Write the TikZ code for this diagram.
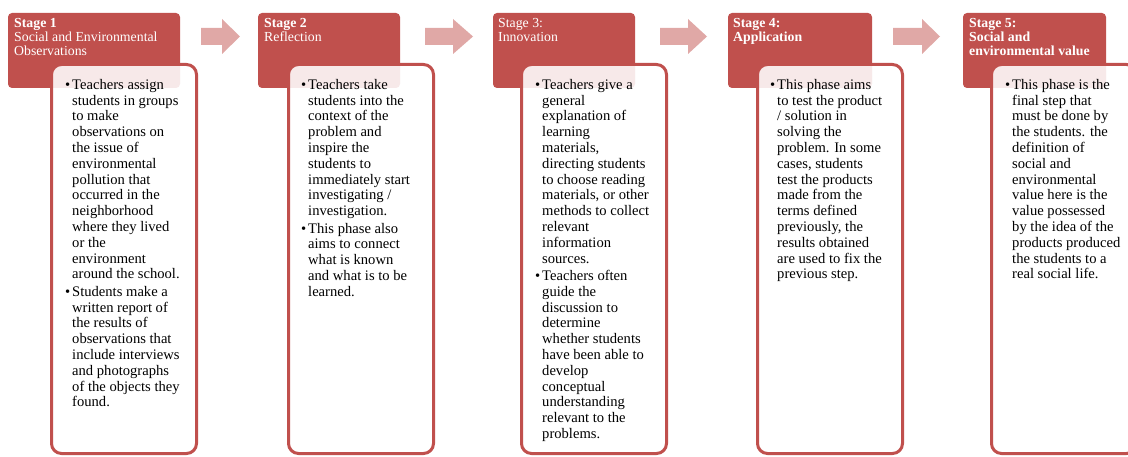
\documentclass[tikz,border=0pt]{standalone}
\usepackage{fontspec}
\setmainfont{Liberation Serif}
\usepackage{tikz}

\definecolor{stagered}{HTML}{C0504D}
\definecolor{arrowpink}{HTML}{E0A8A6}

\newcommand{\bul}{\llap{\textbullet\hspace{2pt}}}

\tikzset{
  stagehead/.style={fill=stagered,rounded corners=4pt,minimum height=75,inner sep=0,outer sep=0,anchor=north west},
  stagebody/.style={draw=stagered,line width=3pt,fill=white,fill opacity=0.88,rounded corners=10pt,
    minimum width=145,minimum height=389,inner sep=0,anchor=north west},
  stagelabel/.style={text=white,align=left,inner sep=0,anchor=north west,font=\fontsize{13.8}{14}\selectfont},
  stagetext/.style={align=left,inner sep=0,anchor=north west,font=\fontsize{14.6}{15.8}\selectfont}
}

\begin{document}
\begin{tikzpicture}[line cap=round,line join=round,x=1pt,y=-1pt]
      \clip (0,0) rectangle (1128,457);
      \foreach \l/\h/\t in {201/222/240, 425/453/473, 660/688/707, 893/922/940}{
        \fill[arrowpink] (\l,28) -- (\h,28) -- (\h,19) -- (\t,36.5) -- (\h,54) -- (\h,45) -- (\l,45) -- cycle;
      }
      \foreach \n/\hx/\hw/\bx in {1/8/172/50, 2/258/142/287, 3/493/142/520, 4/728/144/756, 5/963/143/990}{
        \node[stagehead,minimum width=\hw] (head\n) at (\hx,13) {};
        \node[stagebody] (body\n) at (\bx,63) {};
      }

      \node[stagelabel] (lab1) at ([xshift=6pt,yshift=-5pt]head1.north west)
        {\textbf{Stage 1}\\Social and Environmental\\Observations};
      \node[stagelabel] (lab2) at ([xshift=6pt,yshift=-5pt]head2.north west)
        {\textbf{Stage 2}\\Reflection};
      \node[stagelabel] (lab3) at ([xshift=5pt,yshift=-5pt]head3.north west)
        {Stage 3:\\Innovation};
      \node[stagelabel] (lab4) at ([xshift=5pt,yshift=-5pt]head4.north west)
        {\textbf{Stage 4:}\\\textbf{Application}};
      \node[stagelabel] (lab5) at ([xshift=6pt,yshift=-5pt]head5.north west)
        {\textbf{Stage 5:}\\\textbf{Social and}\\\textbf{environmental value}};

      \node[stagetext] (txt1) at ([xshift=22pt,yshift=-16pt]body1.north west)
        {\bul Teachers assign\\students in groups\\to make\\observations on\\the issue of\\environmental\\pollution that\\occurred in the\\neighborhood\\where they lived\\or the\\environment\\around the school.\\[1.5pt]
         \bul Students make a\\written report of\\the results of\\observations that\\include interviews\\and photographs\\of the objects they\\found.};
      \node[stagetext] (txt2) at ([xshift=21pt,yshift=-16pt]body2.north west)
        {\bul Teachers take\\students into the\\context of the\\problem and\\inspire the\\students to\\immediately start\\investigating /\\investigation.\\[1.5pt]
         \bul This phase also\\aims to connect\\what is known\\and what is to be\\learned.};
      \node[stagetext] (txt3) at ([xshift=22pt,yshift=-16pt]body3.north west)
        {\bul Teachers give a\\general\\explanation of\\learning\\materials,\\directing students\\to choose reading\\materials, or other\\methods to collect\\relevant\\information\\sources.\\[1.5pt]
         \bul Teachers often\\guide the\\discussion to\\determine\\whether students\\have been able to\\develop\\conceptual\\understanding\\relevant to the\\problems.};
      \node[stagetext] (txt4) at ([xshift=21pt,yshift=-16pt]body4.north west)
        {\bul This phase aims\\to test the product\\/ solution in\\solving the\\problem. In some\\cases, students\\test the products\\made from the\\terms defined\\previously, the\\results obtained\\are used to fix the\\previous step.};
      \node[stagetext] (txt5) at ([xshift=22pt,yshift=-16pt]body5.north west)
        {\bul This phase is the\\final step that\\must be done by\\the students. the\\definition of\\social and\\environmental\\value here is the\\value possessed\\by the idea of the\\products produced\\the students to a\\real social life.};
    \end{tikzpicture}
\end{document}
